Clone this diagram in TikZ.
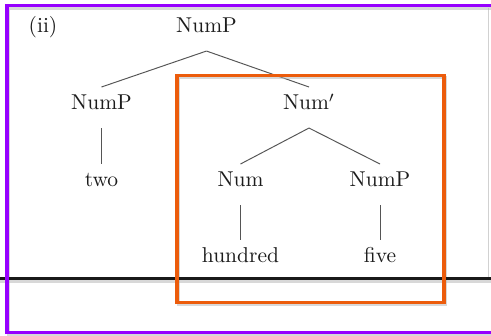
\documentclass[tikz,border=0pt]{standalone}
\usepackage{xcolor}
\definecolor{framepurple}{RGB}{150,0,255}
\definecolor{frameorange}{RGB}{236,92,12}
\definecolor{inkgray}{RGB}{28,28,28}
\definecolor{branchgray}{RGB}{85,85,85}
\tikzset{
  lbl/.style={anchor=base, inner sep=0pt, text=inkgray, font=\fontsize{10}{12}\selectfont},
  branch/.style={draw=branchgray, line width=0.45pt},
  frame/.style={line width=1.4pt},
  frameshadow/.style={line width=1.6pt, draw=black!30, opacity=0.5}
}
\begin{document}
\begin{tikzpicture}[x=0.4655pt, y=-0.4655pt]
\useasboundingbox (0,0) rectangle (491,336);
\clip (0,0) rectangle (491,336);
\fill[white] (0,0) rectangle (491,336);

% faint page edge on the right
\draw[black!18, line width=0.4pt] (488,8) -- (488,277);

% tree labels
\node[lbl] (ii) at (43,33) {(ii)};
\node[lbl] (root) at (206.5,33) {NumP};
\node[lbl] (lnp) at (101.5,110) {NumP};
\node[lbl] (nbar) at (309,110) {Num$'$};
\node[lbl] (two) at (101.5,187) {two};
\node[lbl] (num) at (240.5,187) {Num};
\node[lbl] (rnp) at (380,187) {NumP};
\node[lbl] (hund) at (240.5,263) {hundred};
\node[lbl] (five) at (380,263) {five};

% branches: start below the parent's baseline, stop above the child's
\draw[branch] ([yshift=-8.4pt]root.base) -- ([yshift=10.7pt]lnp.base);
\draw[branch] ([yshift=-8.4pt]root.base) -- ([yshift=10.7pt]nbar.base);
\draw[branch] ([yshift=-8.4pt]lnp.base) -- ([yshift=10.7pt]two.base);
\draw[branch] ([yshift=-8.4pt]nbar.base) -- ([yshift=10.7pt]num.base);
\draw[branch] ([yshift=-8.4pt]nbar.base) -- ([yshift=10.7pt]rnp.base);
\draw[branch] ([yshift=-8.4pt]num.base) -- ([yshift=10.7pt]hund.base);
\draw[branch] ([yshift=-8.4pt]rnp.base) -- ([yshift=10.7pt]five.base);

% frame corners
\coordinate (pTL) at (7,6);
\coordinate (pBR) at (500,333);
\coordinate (oTL) at (177,75.5);
\coordinate (oBR) at (444,302.5);
\coordinate (rL) at (-5,278.5);
\coordinate (rR) at (500,278.5);

% soft shadows
\draw[frameshadow] ([shift={(1.5,2.5)}]rL) -- ([shift={(1.5,2.5)}]rR);
\draw[frameshadow] ([shift={(1.5,2)}]oTL) rectangle ([shift={(1.5,2)}]oBR);
\draw[frameshadow] ([shift={(1.5,2)}]pTL) rectangle ([shift={(1.5,2)}]pBR);

% rule, highlight box and outer frame
\draw[frame, draw=black!90] (rL) -- (rR);
\draw[frame, draw=frameorange] (oTL) rectangle (oBR);
\draw[frame, draw=framepurple] (pTL) rectangle (pBR);
\end{tikzpicture}
\end{document}
